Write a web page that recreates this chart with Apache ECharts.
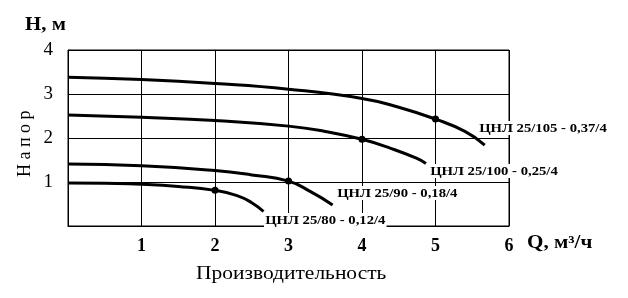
<!DOCTYPE html>
<html>
<head>
<meta charset="utf-8">
<script src="https://cdn.jsdelivr.net/npm/echarts@6/dist/echarts.min.js"></script>
<style>html,body{margin:0;padding:0;background:#fff;}#c{width:628px;height:298px;}</style>
</head>
<body>
<div id="c"></div>
<script>
// Pump curves: Q (m3/h) vs H (m)
const names = ['ЦНЛ 25/80 - 0,12/4', 'ЦНЛ 25/90 - 0,18/4', 'ЦНЛ 25/100 - 0,25/4', 'ЦНЛ 25/105 - 0,37/4'];
const q80  = [0, 0.5, 1, 1.5, 2, 2.3, 2.5, 2.66];
const h80  = [0.98, 0.97, 0.95, 0.90, 0.81, 0.69, 0.53, 0.33];
const q90  = [0, 1, 2, 2.5, 3, 3.3, 3.6];
const h90  = [1.41, 1.37, 1.26, 1.16, 1.02, 0.78, 0.48];
const q100 = [0, 1, 2, 3, 3.5, 4, 4.4, 4.74, 4.87];
const h100 = [2.52, 2.47, 2.40, 2.27, 2.15, 1.97, 1.76, 1.54, 1.42];
const q105 = [0, 1, 2, 3, 4, 4.5, 5, 5.4, 5.67];
const h105 = [3.38, 3.33, 3.24, 3.11, 2.90, 2.70, 2.43, 2.15, 1.84];
const markQ = [2, 3, 4, 5];   // rated point of each pump
const xTicks = [1, 2, 3, 4, 5, 6];
const yTicks = [1, 2, 3, 4];

const curves = [[q80, h80], [q90, h90], [q100, h100], [q105, h105]];
const serif = 'Liberation Serif';

const series = curves.map(([q, h], i) => ({
  type: 'line',
  name: names[i],
  smooth: 0.5,
  lineStyle: { color: '#000', width: 3 },
  itemStyle: { color: '#000' },
  showSymbol: true,
  silent: true,
  z: 3,
  data: q.map((x, j) => ({
    value: [x, h[j]],
    symbol: x === markQ[i] ? 'circle' : 'none',
    symbolSize: 7
  }))
}));

const txt = (x, y, text, font, sx, extra) => Object.assign({
  type: 'text', x, y, scaleX: sx, z: 100,
  style: Object.assign({ text, font, fill: '#000', verticalAlign: 'top' }, extra || {})
});
const labelFont = 'bold 13px "' + serif + '"';
const lab = (x, y, text) => txt(x, y, text, labelFont, 1.13, { backgroundColor: '#fff', padding: [1, 1, 0, 1] });

const chart = echarts.init(document.getElementById('c'), null, { renderer: 'canvas' });
chart.setOption({
  animation: false,
  backgroundColor: '#fff',
  grid: { left: 68, top: 50, width: 441, height: 176, show: true, borderColor: '#000', borderWidth: 1, containLabel: false },
  xAxis: {
    type: 'value', min: 0, max: 6, interval: 1,
    axisLine: { show: true, lineStyle: { color: '#000', width: 1 } },
    axisTick: { show: false },
    splitLine: { show: true, lineStyle: { color: '#000', width: 1 } },
    axisLabel: {
      margin: 11, color: '#000', fontFamily: serif, fontSize: 18, fontWeight: 'bold',
      formatter: v => xTicks.includes(v) ? String(v) : ''
    }
  },
  yAxis: {
    type: 'value', min: 0, max: 4, interval: 1,
    axisLine: { show: true, lineStyle: { color: '#000', width: 1 } },
    axisTick: { show: false },
    splitLine: { show: true, lineStyle: { color: '#000', width: 1 } },
    axisLabel: {
      margin: 15, color: '#000', fontFamily: serif, fontSize: 19, padding: [3, 0, 0, 0],
      formatter: v => yTicks.includes(v) ? String(v) : ''
    }
  },
  graphic: [
    txt(25, 16, 'H, м', 'bold 18px "' + serif + '"', 1.16),
    txt(527, 234, 'Q, м³/ч', 'bold 18px "' + serif + '"', 1.17),
    txt(196, 265, 'Производительность', '19px "' + serif + '"', 1.13),
    { type: 'text', x: 16, y: 177, rotation: Math.PI / 2, style: { text: 'Н а п о р', font: '18px "' + serif + '"', fill: '#000' } },
    lab(478, 121, names[3]),
    lab(429, 164, names[2]),
    lab(336, 186, names[1]),
    lab(264, 213, names[0])
  ],
  series
});
</script>
</body>
</html>
